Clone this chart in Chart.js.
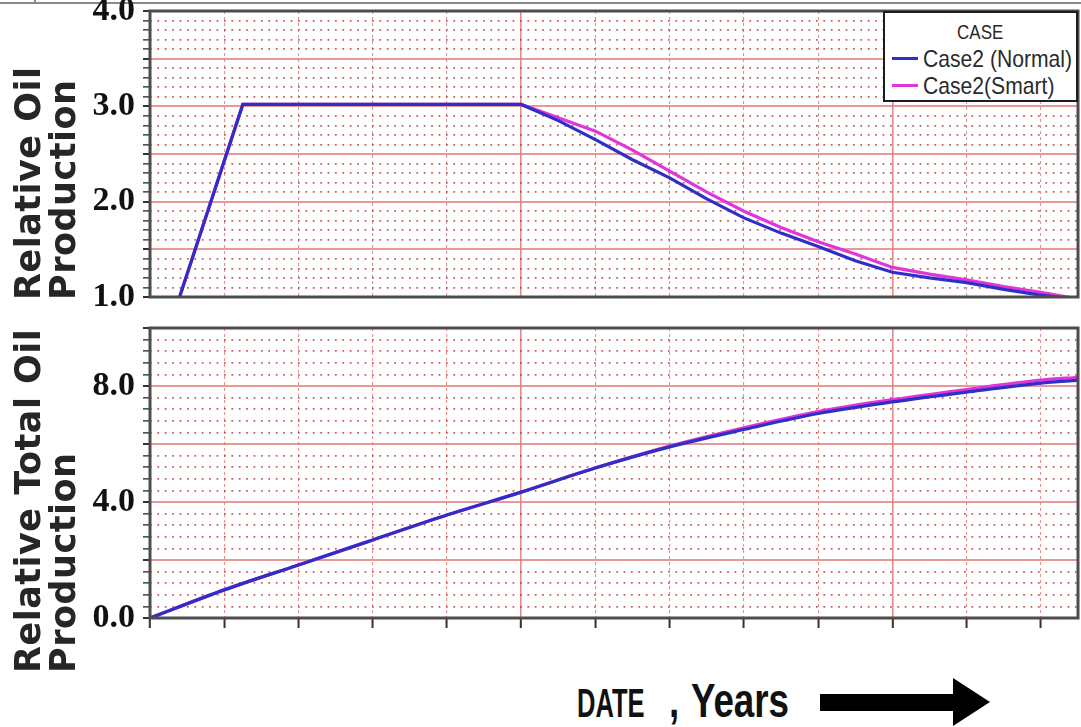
<!DOCTYPE html>
<html>
<head>
<meta charset="utf-8">
<title>Relative Oil Production</title>
<script src="https://cdn.jsdelivr.net/npm/chart.js@4.4.1/dist/chart.umd.min.js"></script>
<style>
    body { margin: 0; background: #fff; }
    #page { position: relative; width: 1081px; height: 727px; overflow: hidden; background: #fff; }
    .panel { position: absolute; left: 0; width: 1081px; }
    #rate-panel { top: 0; height: 310px; }
    #total-panel { top: 315px; height: 335px; }
    .top-rule { position: absolute; left: 0; top: 2px; width: 1081px; height: 2px; background: #8a8a8a; }
    .top-stub { position: absolute; left: 34px; top: 0; width: 2px; height: 3px; background: #8a8a8a; }
    .y-title {
        position: absolute;
        left: 11px;
        transform: rotate(-90deg);
        transform-origin: left top;
        white-space: nowrap;
        font: bold 35px/35px "DejaVu Sans", sans-serif;
        letter-spacing: 0.5px;
        color: #262626;
    }
    #legend {
        position: absolute;
        left: 883px;
        top: 11px;
        width: 195px;
        height: 91px;
        box-sizing: border-box;
        border: 2px solid #1c1c1c;
        background: #fff;
        font-family: "Liberation Sans", Arial, sans-serif;
        color: #2a2a2a;
    }
    #legend .legend-title { text-align: center; font-size: 20px; line-height: 22px; margin-top: 8px; }
    #legend .legend-title span { display: inline-block; transform: scaleX(0.85); }
    #legend .legend-row { display: flex; align-items: center; height: 27px; padding-left: 7px; font-size: 24px; white-space: nowrap; }
    #legend .legend-row:first-of-type { margin-top: 2px; }
    #legend .swatch { width: 26px; height: 3px; margin-right: 5px; flex: none; }
    #legend .name { display: inline-block; transform: scaleX(0.88); transform-origin: left center; }
    #date-label {
        position: absolute;
        left: 577px;
        top: 676px;
        transform: scaleX(0.75);
        transform-origin: left top;
        white-space: pre;
        line-height: 49px;
        font-family: "Liberation Sans", Arial, sans-serif;
        color: #111;
    }
    #date-label .date { display: inline-block; font-size: 40px; font-weight: bold; transform: scaleX(0.85); transform-origin: left bottom; }
    #date-label .years { font-size: 49px; font-weight: bold; word-spacing: 3px; }
    #date-arrow { position: absolute; left: 818px; top: 672px; }
</style>
</head>
<body>
<div id="page">
    <div class="top-rule"></div>
    <div class="top-stub"></div>

    <div class="panel" id="rate-panel"><canvas id="rate-chart"></canvas></div>
    <div class="panel" id="total-panel"><canvas id="total-chart"></canvas></div>

    <div class="y-title" style="top: 300px;">Relative Oil<br>Production</div>
    <div class="y-title" style="top: 673px;">Relative Total Oil<br>Production</div>

    <div id="legend">
        <div class="legend-title"><span>CASE</span></div>
        <div id="legend-items"></div>
    </div>

    <div id="date-label"><span class="date">DATE</span><span class="years"> , Years</span></div>
    <svg id="date-arrow" width="176" height="58" viewBox="0 0 176 58">
        <polygon points="2,22 135,22 135,6 172,30 135,54 135,39 2,39" fill="#000"/>
    </svg>
</div>

<script>
    // years on the x axis
    const rateYears = [0.39, 1.25, 5.0, 5.5, 6.0, 6.5, 7.0, 7.5, 8.0, 8.5, 9.0, 9.5, 10.0, 10.5, 11.0, 11.5, 12.0, 12.5]
    const rateNormal = [0.98, 3.02, 3.02, 2.85, 2.65, 2.44, 2.25, 2.03, 1.83, 1.67, 1.53, 1.38, 1.26, 1.2, 1.15, 1.08, 1.02, 0.97]
    const rateSmart = [0.98, 3.02, 3.02, 2.88, 2.74, 2.54, 2.32, 2.1, 1.9, 1.73, 1.58, 1.45, 1.31, 1.24, 1.18, 1.11, 1.05, 0.98]

    const totalYears = [0, 1, 2, 3, 4, 5, 6, 7, 8, 9, 10, 11, 12, 12.5]
    const totalNormal = [0, 0.97, 1.83, 2.69, 3.55, 4.34, 5.17, 5.9, 6.5, 7.05, 7.45, 7.79, 8.1, 8.2]
    const totalSmart = [0, 0.97, 1.83, 2.69, 3.55, 4.34, 5.18, 5.93, 6.56, 7.12, 7.53, 7.88, 8.2, 8.3]

    const rateTickLabels = ["1.0", "2.0", "3.0", "4.0"]
    const totalTickLabels = ["0.0", "4.0", "8.0"]

    const caseNames = ["Case2 (Normal)", "Case2(Smart)"]
    const caseColors = ["#2f2fc8", "#e035d8"]

    const toPoints = (xs, ys) => xs.map((x, i) => ({ x, y: ys[i] }))

    function isMultiple(value, step) {
        const ratio = value / step
        return Math.abs(ratio - Math.round(ratio)) < 1e-6
    }

    function yScale(min, max, step, majorStep, labels) {
        const major = (ctx) => ctx.tick && isMultiple(ctx.tick.value, majorStep)
        return {
            type: "linear",
            min,
            max,
            afterFit(scale) {
                scale.width = 150
                scale.paddingTop = 0
                scale.paddingBottom = 0
            },
            ticks: {
                stepSize: step,
                autoSkip: false,
                padding: 8,
                color: "#111",
                font: { family: "'Liberation Serif', 'Times New Roman', serif", size: 34, weight: "bold" },
                callback(value) {
                    const text = value.toFixed(1)
                    return labels.includes(text) ? text : ""
                },
            },
            grid: {
                color: (ctx) => (major(ctx) ? "rgba(226, 118, 118, 0.75)" : "rgba(190, 60, 60, 0.85)"),
                lineWidth: (ctx) => (major(ctx) ? 2 : 1.7),
                tickLength: 7,
                tickColor: "#333",
                tickWidth: (ctx) => (major(ctx) ? 2 : 1.4),
                tickBorderDash: [],
            },
            border: {
                display: false,
                dash: (ctx) => (ctx.tick && !major(ctx) ? [1.7, 5.7] : []),
            },
        }
    }

    function xScale(height, showTicks) {
        const major = (ctx) => ctx.tick && isMultiple(ctx.tick.value, 5)
        return {
            type: "linear",
            min: 0,
            max: 12.5,
            afterFit(scale) {
                scale.height = height
                scale.paddingLeft = 0
                scale.paddingRight = 0
            },
            ticks: {
                stepSize: 1,
                autoSkip: false,
                includeBounds: false,
                display: false,
            },
            grid: {
                color: (ctx) => (major(ctx) ? "rgba(222, 110, 110, 0.8)" : "rgba(205, 105, 105, 0.7)"),
                lineWidth: (ctx) => (major(ctx) ? 1.6 : 1.1),
                drawTicks: showTicks,
                tickLength: 10,
                tickColor: "#333",
                tickWidth: 2,
                tickBorderDash: [],
            },
            border: {
                display: false,
                dash: (ctx) => (ctx.tick && !major(ctx) ? [3, 3] : []),
            },
        }
    }

    const framePlugin = {
        id: "frame",
        afterDatasetsDraw(chart) {
            const { ctx, chartArea } = chart
            ctx.save()
            ctx.strokeStyle = "#4d4d4d"
            ctx.lineWidth = 3
            ctx.strokeRect(chartArea.left, chartArea.top, chartArea.right - chartArea.left, chartArea.bottom - chartArea.top)
            ctx.restore()
        },
    }

    function makeChart(canvasId, xs, series, y, x, paddingTop, smooth) {
        return new Chart(document.getElementById(canvasId), {
            type: "line",
            data: {
                datasets: series.map((values, i) => ({
                    label: caseNames[i],
                    data: toPoints(xs, values),
                    borderColor: caseColors[i],
                    backgroundColor: caseColors[i],
                    borderWidth: 3.2,
                    pointRadius: 0,
                    tension: 0,
                    cubicInterpolationMode: smooth ? "monotone" : "default",
                })),
            },
            options: {
                responsive: true,
                maintainAspectRatio: false,
                animation: false,
                layout: { padding: { top: paddingTop, right: 3, left: 0, bottom: 0 } },
                plugins: {
                    legend: { display: false },
                    tooltip: { enabled: false },
                },
                scales: { x, y },
            },
            plugins: [framePlugin],
        })
    }

    const rateChart = makeChart(
        "rate-chart",
        rateYears,
        [rateNormal, rateSmart],
        yScale(1, 4, 0.1, 0.5, rateTickLabels),
        xScale(13, false),
        11,
        false
    )

    makeChart(
        "total-chart",
        totalYears,
        [totalNormal, totalSmart],
        yScale(0, 10, 0.4, 2, totalTickLabels),
        xScale(32, true),
        13,
        true
    )

    // legend box built from the rate chart's datasets
    const legendItems = document.getElementById("legend-items")
    rateChart.data.datasets.forEach((dataset) => {
        const row = document.createElement("div")
        row.className = "legend-row"
        const swatch = document.createElement("span")
        swatch.className = "swatch"
        swatch.style.background = dataset.borderColor
        const label = document.createElement("span")
        label.className = "name"
        label.textContent = dataset.label
        row.append(swatch, label)
        legendItems.appendChild(row)
    })
</script>
</body>
</html>
